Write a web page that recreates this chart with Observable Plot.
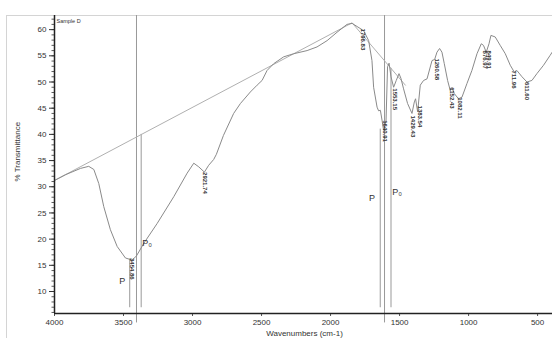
<!DOCTYPE html>
<html><head><meta charset="utf-8">
<script src="https://cdn.jsdelivr.net/npm/d3@7"></script>
<script src="https://cdn.jsdelivr.net/npm/@observablehq/plot@0.6"></script>
<style>
body{margin:0;background:#fff;}
#wrap{position:relative;width:552px;height:338px;overflow:hidden;font-family:"Liberation Sans",Arial,sans-serif;}
#frame{position:absolute;left:6px;top:15px;width:560px;height:340px;border-top:1px solid #d4d4d4;border-left:1px solid #d4d4d4;}
#chart{position:absolute;left:0;top:0;}
</style></head><body><div id="wrap"><div id="frame"></div><div id="chart"></div></div>
<script>
// spectrum (wavenumber cm-1, % transmittance)
const wavenumbers = [4000,3920,3812,3752,3715,3679,3643,3595,3546,3486,3437,3406,3353,3256,3136,3039,2991,2955,2914,2883,2847,2827,2776,2702,2653,2581,2532,2496,2460,2412,2340,2267,2170,2098,2025,1953,1881,1844,1808,1760,1724,1700,1688,1663,1652,1639,1627,1616,1598,1587,1576,1562,1543,1524,1504,1490,1471,1442,1410,1393,1384,1369,1350,1326,1301,1265,1246,1229,1210,1193,1176,1152,1133,1120,1104,1073,1048,1012,976,939,908,892,872,852,838,807,771,734,698,669,650,613,577,541,505,457,409,394];
const transmittance = [31.2,32.3,33.5,33.9,33.3,30.6,26.2,21.8,18.6,16.4,16.0,16.8,19.2,23.0,28.1,32.6,34.5,33.8,32.8,34.1,35.2,36.2,39.8,44.0,45.9,48.1,49.4,50.3,52.2,53.5,54.8,55.4,56.0,56.7,57.9,59.5,61.0,61.2,60.6,59.8,57.9,54.1,49.0,45.2,44.5,44.6,42.7,40.8,42.7,52.9,53.6,51.0,49.0,50.3,51.6,50.7,48.7,45.9,44.0,46.2,46.8,44.3,49.4,50.3,50.6,54.1,54.3,55.7,56.4,55.7,53.5,50.3,48.4,49.0,47.8,46.8,47.1,49.7,52.2,55.4,57.3,57.0,55.7,57.3,58.9,58.6,57.0,55.4,53.2,51.9,52.2,51.0,50.0,50.3,51.6,53.2,55.1,55.7];

// straight baseline
const baselineW = [4000,1844,1458];
const baselineT = [31.2,61.3,49.4];

// peak labels
const peakText = ["3454.86","2921.74","1796.83","1640.91","1553.15","1429.43","1383.54","1260.58","1152.43","1082.11","876.97","849.91","711.96","611.60"];
const peakW = [3442,2907,1762,1603,1531,1403,1350,1229,1120,1060,879,850,674,577];
const peakT = [16.4,32.8,60.2,42.7,48.8,43.6,45.5,54.5,49.0,47.1,56.0,56.0,52.2,50.0];

// P / P0 marker lines
const markW = [3455,3372,1640,1562];
const markTop = [16.2,40.0,41.0,52.6];
const markBottom = 6.9;
const cursorW = [3406,1609];
const markText = ["P","P₀","P","P₀"];
const markTextW = [3510,3329,1700,1518];
const markTextT = [11.9,19.2,27.8,29.0];

const xTicks = [4000,3500,3000,2500,2000,1500,1000,500];
const yTicks = [10,15,20,25,30,35,40,45,50,55,60];
const yMinor = d3.range(6,63);

const spectrum = wavenumbers.map((w,i)=>({w,t:transmittance[i]}));
const baseline = baselineW.map((w,i)=>({w,t:baselineT[i]}));
const peaks = peakText.map((s,i)=>({s,w:peakW[i],t:peakT[i]}));
const marks = markW.map((w,i)=>({w,top:markTop[i]}));
const mlabels = markText.map((s,i)=>({s,w:markTextW[i],t:markTextT[i]}));

const font = "Liberation Sans, Arial, sans-serif";
const chart = Plot.plot({
  width:552, height:338,
  marginLeft:54, marginRight:0, marginTop:15, marginBottom:25,
  style:{fontFamily:font, background:"transparent", color:"#333"},
  x:{domain:[4000,392]},
  y:{domain:[5.8,62.7]},
  marks:[
    Plot.ruleX(cursorW,{x:d=>d, y1:62.7, y2:4.0, stroke:"#999", strokeWidth:1}),
    Plot.ruleX(marks,{x:"w", y1:"top", y2:markBottom, stroke:"#999", strokeWidth:1}),
    Plot.line(baseline,{x:"w", y:"t", stroke:"#b0b0b0", strokeWidth:1}),
    Plot.line(spectrum,{x:"w", y:"t", stroke:"#8a8a8a", strokeWidth:1, curve:"linear"}),
    Plot.text(peaks,{x:"w", y:"t", text:"s", rotate:90, textAnchor:"start", fontSize:6, fill:"#333", fontWeight:"bold"}),
    Plot.text(mlabels,{x:"w", y:"t", text:"s", fontSize:9, fill:"#333"}),
    Plot.text(["Sample D"],{frameAnchor:"top-left", dx:2, dy:4, fontSize:5.5, fill:"#333"}),
    Plot.text(["% Transmittance"],{frameAnchor:"left", dx:-37, dy:17, rotate:-90, fontSize:8, fill:"#333"}),
    Plot.text(["Wavenumbers (cm-1)"],{frameAnchor:"bottom", dx:1, dy:22, fontSize:8, fill:"#333"}),
    Plot.axisY({ticks:yMinor, tickSize:2.5, tickFormat:()=>"", label:null, stroke:"#333", strokeWidth:0.8}),
    Plot.axisY({ticks:yTicks, tickSize:5, tickPadding:3, fontSize:8, label:null, stroke:"#333"}),
    Plot.axisX({ticks:xTicks, tickSize:3, tickPadding:3, fontSize:8, label:null, tickFormat:d=>String(d), stroke:"#555"}),
    Plot.ruleX([4000],{stroke:"#222", strokeWidth:1.5}),
    Plot.ruleY([5.8],{stroke:"#222", strokeWidth:1.5})
  ]
});
document.getElementById("chart").appendChild(chart);
</script>
</body></html>
